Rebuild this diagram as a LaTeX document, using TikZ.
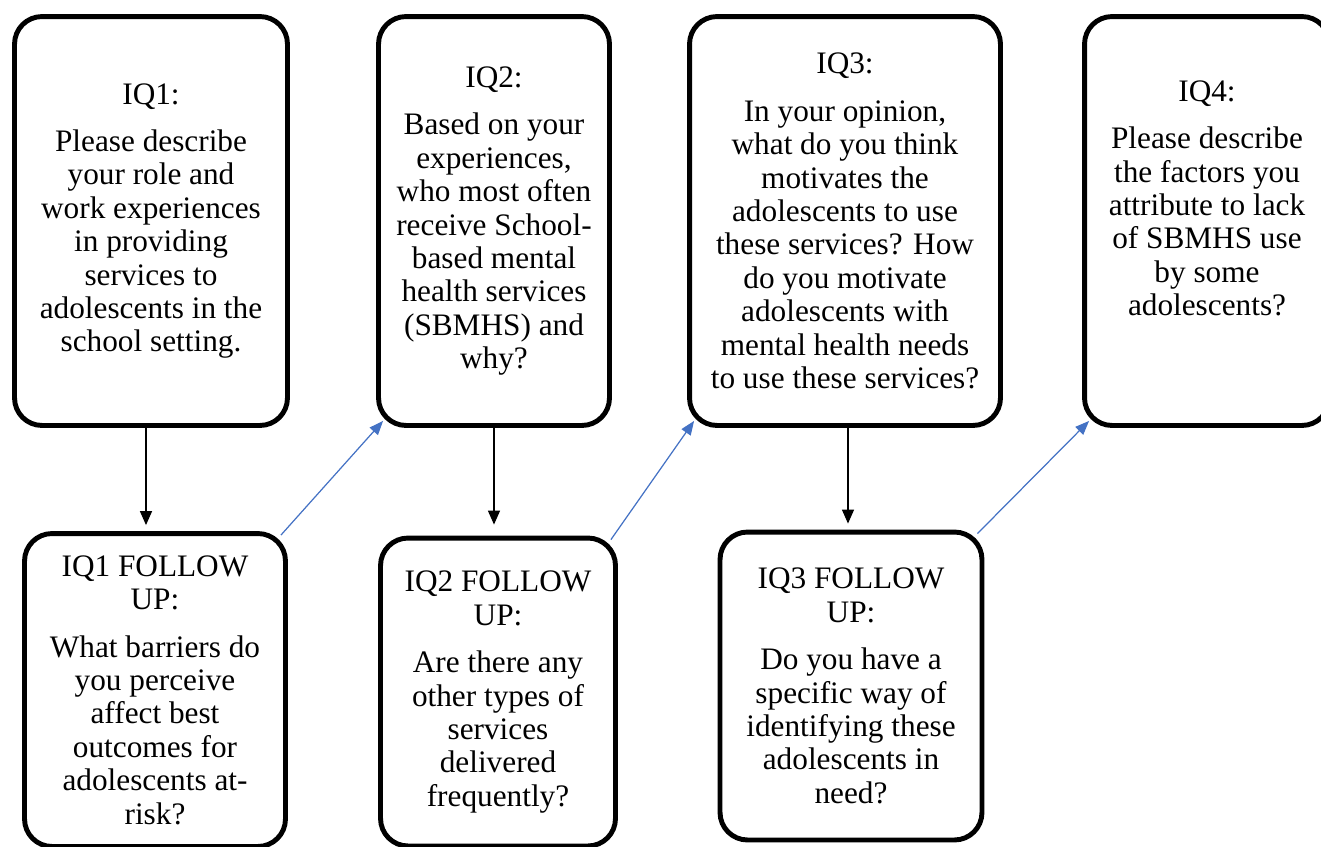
\documentclass[tikz,border=0pt]{standalone}
\usepackage{fontspec}
\setmainfont{LiberationSerif-Regular.ttf}
\usetikzlibrary{arrows.meta,positioning}
\definecolor{linkblue}{RGB}{68,114,196}

\begin{document}
\begin{tikzpicture}[
    x=0.02cm, y=-0.02cm,
    box/.style={draw, line width=2.8pt, rounded corners=0.55cm, align=center, inner sep=0pt, font=\fontsize{17.8pt}{19pt}\selectfont},
    question/.style={box, minimum height=8.18cm},
    followup/.style={box, minimum height=6.16cm},
    arrow/.style={-{Triangle[length=0.28cm, width=0.24cm]}, line width=0.8pt, shorten >=0.12cm},
    link/.style={-{Triangle[length=0.28cm, width=0.22cm]}, line width=0.7pt, color=linkblue}
  ]
    \useasboundingbox (0,0) rectangle (1321,846);

    % interview questions
    \node[question, minimum width=5.46cm] (iq1) at (151,221) {IQ1:\\[8pt]Please describe\\your role and\\work experiences\\in providing\\services to\\adolescents in the\\school setting.};
    \node[question, minimum width=4.62cm] (iq2) at (494,221) {IQ2:\\[8pt]Based on your\\experiences,\\who most often\\receive School-\\based mental\\health services\\(SBMHS) and\\why?};
    \node[question, minimum width=6.22cm] (iq3) at (845,221) {IQ3:\\[8pt]In your opinion,\\what do you think\\motivates the\\adolescents to use\\these services? How\\do you motivate\\adolescents with\\mental health needs\\to use these services?};
    \node[question, minimum width=4.9cm] (iq4) at (1207,221) {IQ4:\\[8pt]Please describe\\the factors you\\attribute to lack\\of SBMHS use\\by some\\adolescents?\\[7pt]\mbox{}};

    % follow-up questions
    \node[followup, minimum width=5.22cm, minimum height=6.26cm] (fu1) at (155,690) {IQ1 FOLLOW\\UP:\\[8pt]What barriers do\\you perceive\\affect best\\outcomes for\\adolescents at-\\risk?};
    \node[followup, minimum width=4.7cm] (fu2) at (498,692) {IQ2 FOLLOW\\UP:\\[8pt]Are there any\\other types of\\services\\delivered\\frequently?};
    \node[followup, minimum width=5.24cm] (fu3) at (851,686) {IQ3 FOLLOW\\UP:\\[8pt]Do you have a\\specific way of\\identifying these\\adolescents in\\need?};

    % question -> follow up
    \draw[arrow] ([xshift=-0.1cm]iq1.south) coordinate (a1) -- (a1 |- fu1.north);
    \draw[arrow, shorten >=0.22cm] (iq2.south) -- (iq2.south |- fu2.north);
    \draw[arrow] ([xshift=0.06cm]iq3.south) coordinate (a3) -- (a3 |- fu3.north);

    % follow up -> next question
    \draw[link] ([shift={(-7,4)}]fu1.north east) -- ([shift={(7,-7)}]iq2.south west);
    \draw[link] ([shift={(-7,4)}]fu2.north east) -- ([shift={(7,-7)}]iq3.south west);
    \draw[link] ([shift={(-7,4)}]fu3.north east) -- ([shift={(7,-7)}]iq4.south west);
  \end{tikzpicture}
\end{document}
